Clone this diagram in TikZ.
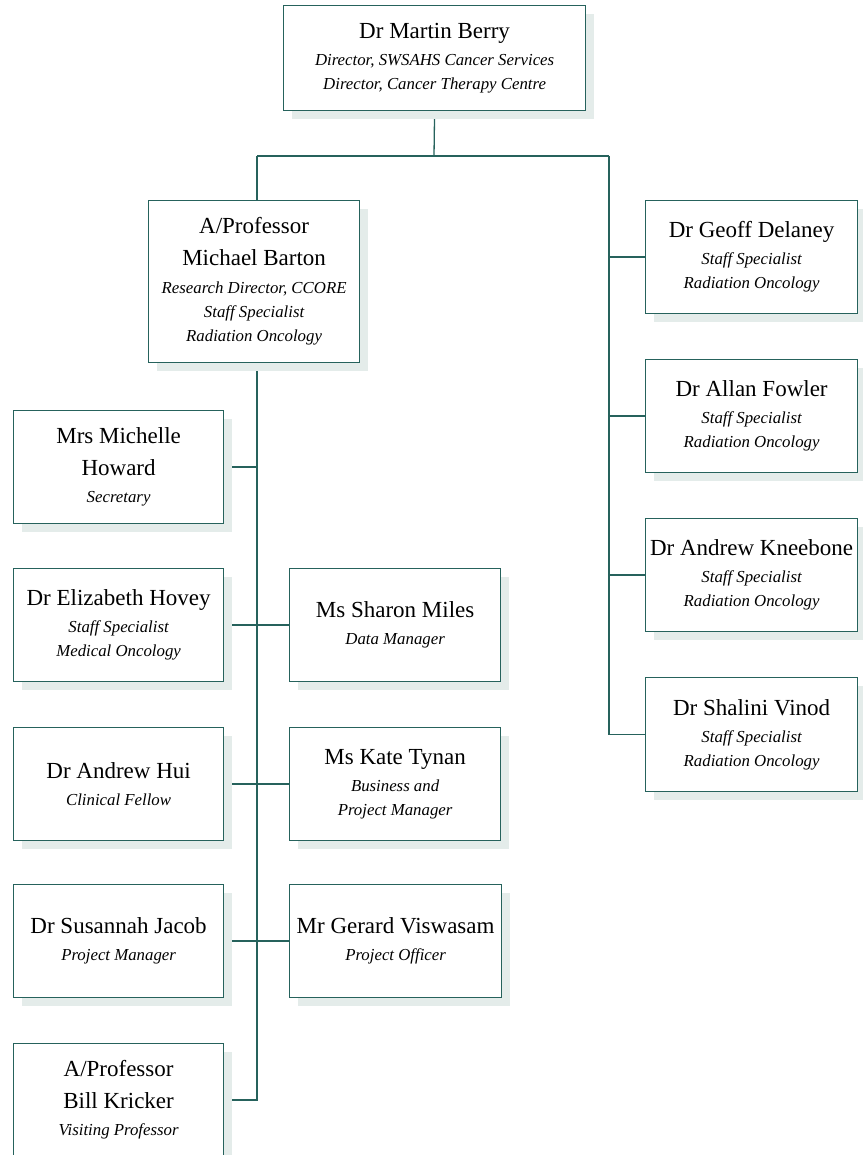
\documentclass[tikz,border=0pt]{standalone}
\usepackage{fontspec}
\setmainfont{Liberation Serif}
\usetikzlibrary{shadows,backgrounds}
\definecolor{teal}{RGB}{38,98,92}
\definecolor{shade}{RGB}{228,236,234}
\newcommand{\nm}[1]{{\fontsize{23}{24}\selectfont #1}}
\newcommand{\sbt}[1]{{\fontsize{16.8}{24}\itshape\selectfont #1}}
\tikzset{
  box/.style={draw=teal, line width=1.2pt, fill=white, rectangle, inner sep=0pt,
    anchor=north west, align=center, font=\fontsize{23}{24}\selectfont,
    general shadow={fill=shade, shadow xshift=8pt, shadow yshift=-8pt}},
  link/.style={draw=teal, line width=1.3pt}
}
\begin{document}
\begin{tikzpicture}[x=1pt,y=-1pt]
\useasboundingbox (0,0) rectangle (862,1155);
% top
\node[box, minimum width=302pt, minimum height=105pt] (berry) at (283,5)
  {\nm{Dr Martin Berry}\\[3pt]\sbt{Director, SWSAHS Cancer Services}\\\sbt{Director, Cancer Therapy Centre}};
\node[box, minimum width=211pt, minimum height=162pt] (barton) at (148,200)
  {\nm{A/Professor}\\[8pt]\nm{Michael Barton}\\[4pt]\sbt{Research Director, CCORE}\\\sbt{Staff Specialist}\\\sbt{Radiation Oncology}};
% right column
\node[box, minimum width=212pt, minimum height=113pt] (delaney) at (645,200)
  {\nm{Dr Geoff Delaney}\\[3pt]\sbt{Staff Specialist}\\\sbt{Radiation Oncology}};
\node[box, minimum width=212pt, minimum height=113pt] (fowler) at (645,359)
  {\nm{Dr Allan Fowler}\\[3pt]\sbt{Staff Specialist}\\\sbt{Radiation Oncology}};
\node[box, minimum width=212pt, minimum height=113pt] (kneebone) at (645,518)
  {\nm{Dr Andrew Kneebone}\\[3pt]\sbt{Staff Specialist}\\\sbt{Radiation Oncology}};
\node[box, minimum width=212pt, minimum height=114pt] (vinod) at (645,677)
  {\nm{Dr Shalini Vinod}\\[3pt]\sbt{Staff Specialist}\\\sbt{Radiation Oncology}};
% left column
\node[box, minimum width=210pt, minimum height=113pt] (howard) at (13,410)
  {\nm{Mrs Michelle}\\[8pt]\nm{Howard}\\[3pt]\sbt{Secretary}};
\node[box, minimum width=210pt, minimum height=113pt] (hovey) at (13,568)
  {\nm{Dr Elizabeth Hovey}\\[3pt]\sbt{Staff Specialist}\\\sbt{Medical Oncology}};
\node[box, minimum width=210pt, minimum height=113pt] (hui) at (13,727)
  {\nm{Dr Andrew Hui}\\[3pt]\sbt{Clinical Fellow}};
\node[box, minimum width=210pt, minimum height=113pt] (jacob) at (13,884)
  {\nm{Dr Susannah Jacob}\\[3pt]\sbt{Project Manager}};
\node[box, minimum width=210pt, minimum height=113pt] (kricker) at (13,1043)
  {\nm{A/Professor}\\[8pt]\nm{Bill Kricker}\\[3pt]\sbt{Visiting Professor}};
% middle column
\node[box, minimum width=211pt, minimum height=113pt] (miles) at (289,568)
  {\nm{Ms Sharon Miles}\\[3pt]\sbt{Data Manager}};
\node[box, minimum width=211pt, minimum height=113pt] (tynan) at (289,727)
  {\nm{Ms Kate Tynan}\\[3pt]\sbt{Business and}\\\sbt{Project Manager}};
\node[box, minimum width=212pt, minimum height=113pt] (viswasam) at (289,884)
  {\nm{Mr Gerard Viswasam}\\[3pt]\sbt{Project Officer}};
% connectors
\coordinate (bus) at (434,156);
\coordinate (busL) at (257,156);
\coordinate (busR) at (609,156);
\begin{pgfonlayer}{background}
\draw[link] (berry.south) -- (bus);
\draw[link] (busL) -- (busR);
\draw[link] (busL) -- (busL |- barton.north);
\draw[link] (busR) -- (busR |- vinod.west) -- (vinod.west);
\draw[link] (delaney.west) -- (delaney.west -| busR);
\draw[link] (fowler.west) -- (fowler.west -| busR);
\draw[link] (kneebone.west) -- (kneebone.west -| busR);
\draw[link] (barton.south -| busL) -- (busL |- kricker.east) -- (kricker.east);
\draw[link] (howard.east) -- (howard.east -| busL);
\draw[link] (hovey.east) -- (miles.west);
\draw[link] (hui.east) -- (tynan.west);
\draw[link] (jacob.east) -- (viswasam.west);
\end{pgfonlayer}
\end{tikzpicture}
\end{document}
